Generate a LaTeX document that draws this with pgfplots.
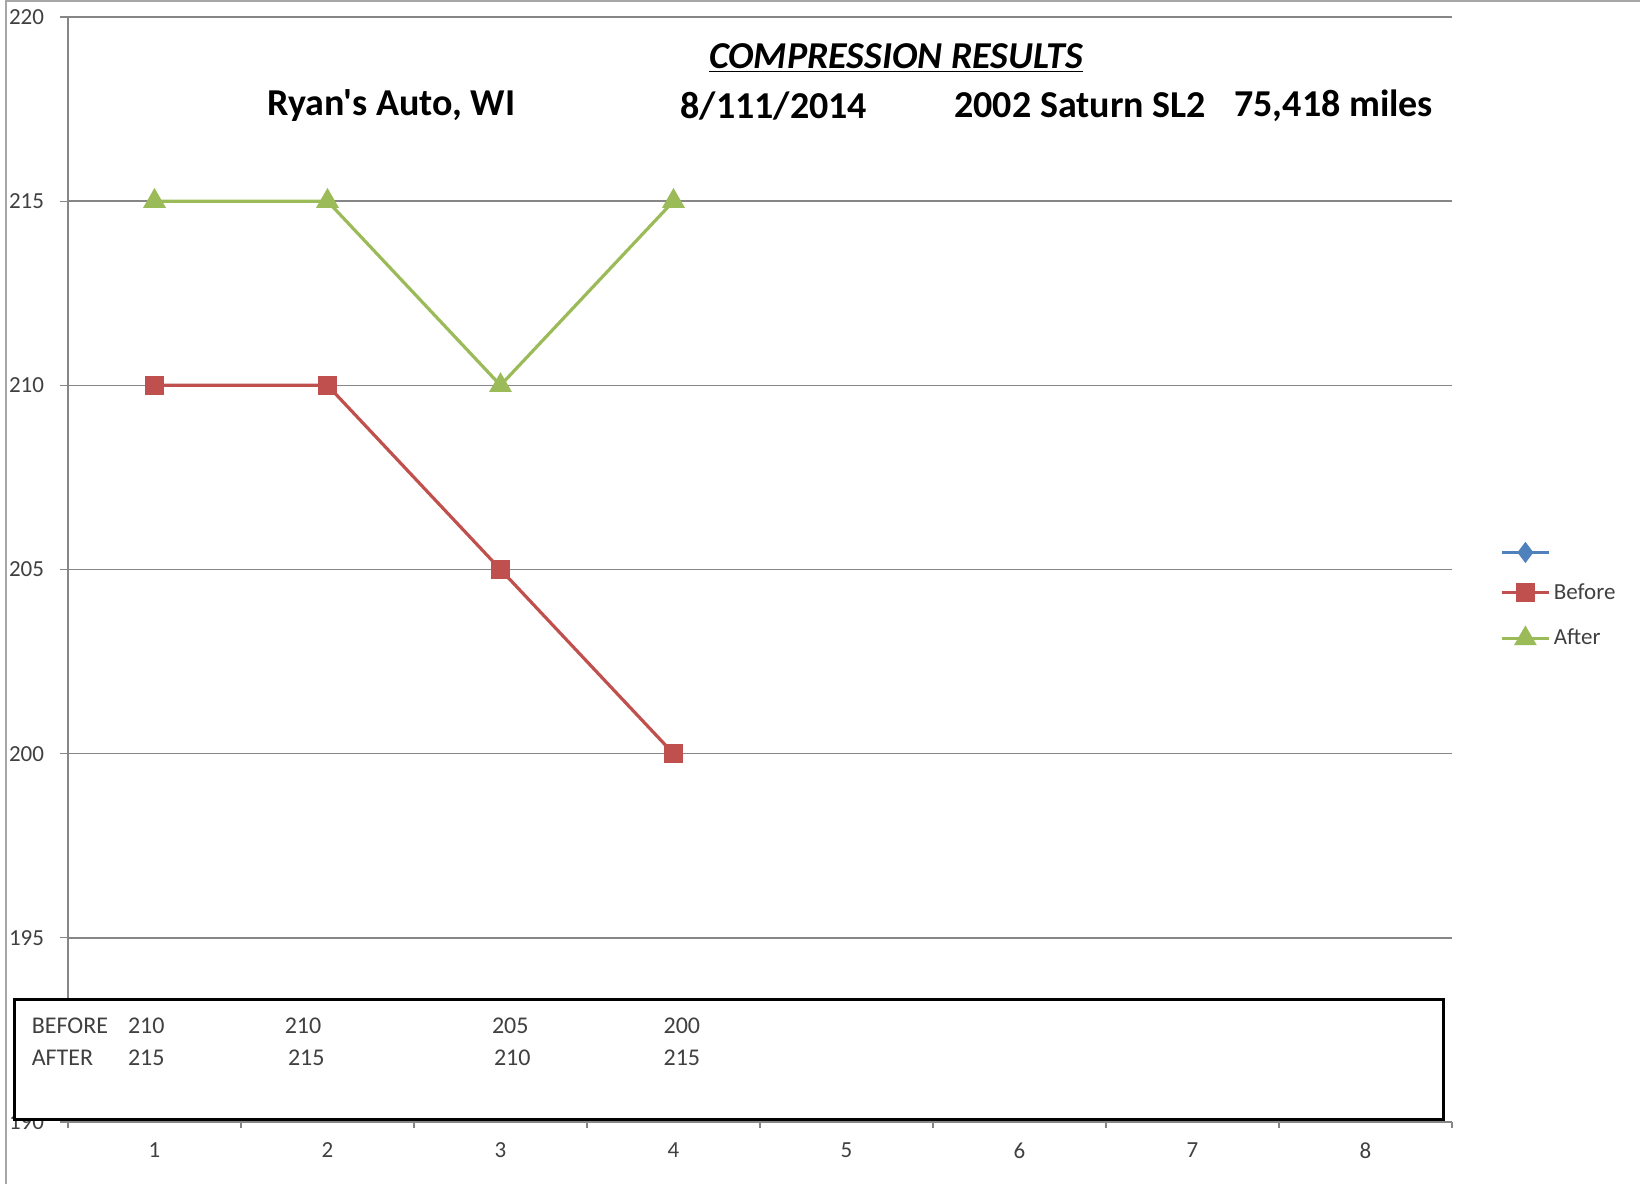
\documentclass[border=0pt]{standalone}
\usepackage{pgfplots}
\pgfplotsset{compat=1.18}
\usepackage{fontspec}
\setmainfont{Carlito}[Ligatures=TeXOff]
\definecolor{xblue}{HTML}{4F81BD}
\definecolor{xred}{HTML}{C0504D}
\definecolor{xgreen}{HTML}{9BBB59}
\definecolor{xgrid}{HTML}{868686}
\definecolor{xtext}{HTML}{404040}
\begin{document}
\begin{tikzpicture}
\path[use as bounding box] (0,0) rectangle (820pt,592pt);
\draw[black!35, line width=1pt] (2.9pt,0) -- (2.9pt,591.5pt) -- (820pt,591.5pt);
\begin{axis}[
  at={(34pt,31pt)}, anchor=south west,
  scale only axis, width=692pt, height=552.5pt,
  xmin=0.5, xmax=8.5, ymin=190, ymax=220,
  xtick={1,...,8},
  minor xtick={0.5,1.5,...,8.5},
  ytick={190,195,...,220},
  major x tick style={draw=none},
  tick align=outside,
  major tick length=4pt, minor tick length=3pt,
  tick style={xgrid, line width=0.6pt},
  axis line style={xgrid, line width=0.75pt},
  axis x line*=bottom, axis y line*=left,
  ymajorgrids, grid style={xgrid, line width=0.75pt},
  /pgf/number format/assume math mode=true,
  tick label style={font=\fontsize{11.5}{13}\selectfont, text=xtext},
  yticklabel style={anchor=west, xshift=-29pt},
  xticklabel style={yshift=-3pt},
  legend style={at={(1.03,0.474)}, anchor=west, draw=none, fill=none,
    font=\fontsize{11.5}{13}\selectfont, text=xtext, row sep=9.5pt,
    legend cell align=left, nodes={inner xsep=1.5pt}},
  legend image code/.code={
    \draw[mark repeat=2, mark phase=2, #1] plot coordinates {(0cm,0cm) (0.42cm,0cm) (0.84cm,0cm)};},
]
\addlegendimage{xblue, line width=1.6pt, mark=diamond*, mark size=4pt, mark options={solid}}
\addlegendentry{}
\addplot[xred, line width=1.6pt, mark=square*, mark size=3.9pt, mark options={solid}]
  coordinates {(1,210) (2,210) (3,205) (4,200)};
\addlegendentry{Before}
\addplot[xgreen, line width=1.6pt, mark=triangle*, mark size=5pt, mark options={solid}]
  coordinates {(1,215) (2,215) (3,210) (4,215)};
\addlegendentry{After}
\end{axis}
% title texts
\node[font=\fontsize{19}{22}\selectfont\bfseries\itshape, anchor=center] at (448pt,562.8pt) {\underline{COMPRESSION RESULTS}};
\node[font=\fontsize{19}{22}\selectfont\bfseries, anchor=west, inner sep=0pt] at (133.4pt,539.2pt) {Ryan's Auto, WI};
\node[font=\fontsize{19}{22}\selectfont\bfseries, anchor=west, inner sep=0pt] at (340pt,539.2pt) {8/111/2014};
\node[font=\fontsize{19}{22}\selectfont\bfseries, anchor=west, inner sep=0pt] at (477pt,539.2pt) {2002 Saturn SL2};
\node[font=\fontsize{19}{22}\selectfont\bfseries, anchor=west, inner sep=0pt] at (617pt,539.2pt) {75,418 miles};
% data table box
\draw[black, line width=1.5pt, fill=white] (7.3pt,32pt) rectangle (721.7pt,92pt);
\begin{scope}[every node/.style={font=\fontsize{12}{14}\selectfont, text=xtext, anchor=west, inner sep=0pt}]
\node at (15.7pt,79pt) {BEFORE};
\node at (63.8pt,79pt) {210};
\node at (142.2pt,79pt) {210};
\node at (245.8pt,79pt) {205};
\node at (331.6pt,79pt) {200};
\node at (15.7pt,63.3pt) {AFTER};
\node at (63.8pt,63.3pt) {215};
\node at (143.8pt,63.3pt) {215};
\node at (246.8pt,63.3pt) {210};
\node at (331.6pt,63.3pt) {215};
\end{scope}
\end{tikzpicture}
\end{document}
